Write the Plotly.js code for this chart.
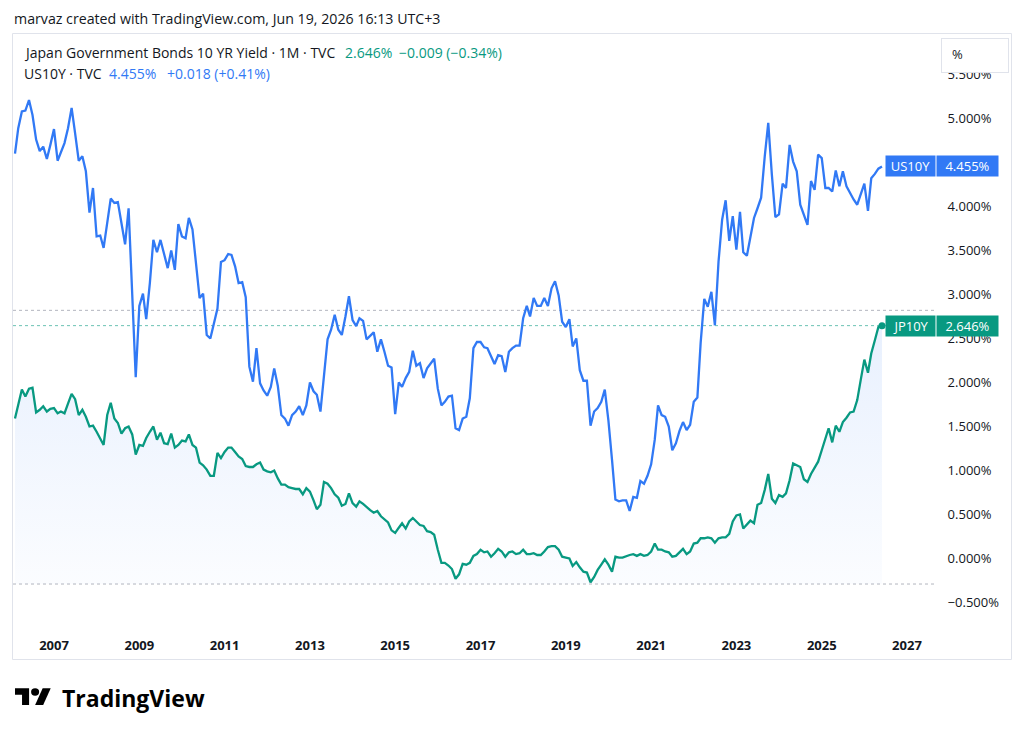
<!DOCTYPE html>
<html>
<head>
<meta charset="utf-8">
<script src="https://cdn.plot.ly/plotly-3.0.1.min.js"></script>
<style>
html,body{margin:0;padding:0;background:#ffffff;}
#chart{width:1024px;height:734px;}
</style>
</head>
<body>
<div id="chart"></div>
<script>
// ---------------- DATA (monthly closes, Feb 2006 .. Jun 2026) ----------------
const startYear = 2006, startMonthIndex = 1; // Feb 2006

const usYield = [
  4.60,4.89,5.08,5.09,5.21,5.04,4.76,4.63,4.68,4.54,4.70,            // 2006 Feb-Dec
  4.88,4.52,4.62,4.72,4.89,5.12,4.83,4.52,4.57,4.40,3.93,4.21,       // 2007
  3.66,3.67,3.53,3.81,4.09,4.04,4.05,3.81,3.57,3.98,2.98,2.06,       // 2008
  2.87,3.01,2.72,3.13,3.62,3.48,3.62,3.45,3.30,3.50,3.28,3.80,       // 2009
  3.66,3.64,3.87,3.74,3.35,2.96,3.01,2.54,2.50,2.67,2.84,3.37,       // 2010
  3.39,3.46,3.45,3.32,3.13,3.14,2.97,2.18,2.01,2.39,1.99,1.91,       // 2011
  1.85,1.95,2.16,1.96,1.63,1.59,1.51,1.63,1.67,1.73,1.63,1.74,       // 2012
  2.00,1.90,1.86,1.67,2.10,2.49,2.60,2.77,2.60,2.54,2.75,2.98,       // 2013
  2.71,2.64,2.73,2.70,2.49,2.53,2.57,2.35,2.49,2.35,2.19,2.17,       // 2014
  1.64,2.00,1.95,2.05,2.12,2.36,2.19,2.22,2.05,2.16,2.22,2.27,       // 2015
  1.93,1.74,1.78,1.84,1.85,1.48,1.46,1.59,1.61,1.82,2.39,2.46,       // 2016
  2.46,2.40,2.39,2.29,2.21,2.31,2.30,2.12,2.35,2.39,2.42,2.42,       // 2017
  2.73,2.87,2.75,2.96,2.87,2.87,2.96,2.87,3.07,3.15,2.99,2.69,       // 2018
  2.63,2.72,2.41,2.50,2.14,2.02,2.02,1.51,1.67,1.71,1.78,1.92,       // 2019
  1.57,1.12,0.67,0.65,0.66,0.66,0.54,0.70,0.69,0.88,0.85,0.94,       // 2020
  1.07,1.35,1.74,1.63,1.61,1.50,1.23,1.31,1.45,1.55,1.46,1.52,       // 2021
  1.78,1.83,2.45,2.95,2.86,3.03,2.65,3.37,3.85,4.07,3.61,3.89,       // 2022
  3.51,3.94,3.48,3.44,3.64,3.87,3.98,4.10,4.57,4.95,4.36,3.88,       // 2023
  3.91,4.26,4.21,4.70,4.51,4.40,4.02,3.90,3.79,4.29,4.19,4.59,       // 2024
  4.55,4.21,4.21,4.17,4.41,4.23,4.40,4.23,4.15,4.08,4.02,4.15,       // 2025
  4.26,3.95,4.32,4.37,4.43,4.455                                     // 2026 Jan-Jun
];

const jpYield = [
  1.59,1.76,1.92,1.84,1.93,1.94,1.66,1.69,1.73,1.67,1.70,            // 2006 Feb-Dec
  1.71,1.65,1.67,1.65,1.76,1.87,1.81,1.63,1.69,1.61,1.50,1.51,       // 2007
  1.44,1.37,1.29,1.63,1.77,1.59,1.54,1.42,1.48,1.50,1.41,1.18,       // 2008
  1.29,1.28,1.37,1.44,1.50,1.35,1.43,1.31,1.30,1.42,1.26,1.29,       // 2009
  1.34,1.33,1.41,1.29,1.26,1.09,1.06,1.01,0.94,0.94,1.20,1.14,       // 2010
  1.21,1.26,1.26,1.21,1.16,1.13,1.05,1.04,1.04,1.07,1.09,1.01,       // 2011
  0.99,0.98,1.00,0.91,0.84,0.84,0.81,0.80,0.79,0.79,0.73,0.80,       // 2012
  0.76,0.66,0.56,0.61,0.87,0.85,0.80,0.73,0.69,0.60,0.62,0.74,       // 2013
  0.63,0.59,0.65,0.62,0.58,0.55,0.52,0.54,0.48,0.45,0.41,0.32,       // 2014
  0.29,0.35,0.40,0.34,0.42,0.46,0.42,0.38,0.37,0.31,0.30,0.27,       // 2015
  0.10,-0.05,-0.05,-0.08,-0.12,-0.23,-0.18,-0.06,-0.07,-0.05,0.03,0.05, // 2016
  0.10,0.07,0.08,0.02,0.06,0.11,0.08,0.02,0.07,0.08,0.05,0.06,       // 2017
  0.10,0.05,0.05,0.06,0.04,0.04,0.08,0.13,0.14,0.14,0.10,0.02,       // 2018
  0.01,0.00,-0.085,-0.04,-0.10,-0.15,-0.16,-0.27,-0.21,-0.13,-0.07,-0.01, // 2019
  -0.07,-0.15,0.02,0.01,0.01,0.03,0.04,0.05,0.03,0.05,0.03,0.04,     // 2020
  0.08,0.17,0.10,0.10,0.08,0.07,0.02,0.03,0.07,0.11,0.05,0.08,       // 2021
  0.17,0.18,0.23,0.23,0.24,0.23,0.18,0.23,0.24,0.24,0.28,0.42,       // 2022
  0.49,0.50,0.34,0.38,0.43,0.40,0.61,0.63,0.78,0.96,0.68,0.63,       // 2023
  0.72,0.70,0.74,0.89,1.08,1.06,1.04,0.90,0.87,0.96,1.04,1.10,       // 2024
  1.23,1.37,1.48,1.32,1.51,1.44,1.55,1.60,1.66,1.67,1.80,2.03,       // 2025
  2.26,2.11,2.33,2.48,2.63,2.646                                     // 2026 Jan-Jun
];

// visible-range high / low price lines of JP10Y
const jpRangeHigh = 2.82;
const jpRangeLow = -0.29;

const xTickDates = ['2007-01-01','2009-01-01','2011-01-01','2013-01-01','2015-01-01','2017-01-01','2019-01-01','2021-01-01','2023-01-01','2025-01-01','2027-01-01'];
const xTickText  = ['2007','2009','2011','2013','2015','2017','2019','2021','2023','2025','2027'];
// 4.500% is hidden behind the US10Y tag in the reference
const yTickVals  = [-0.5,0,0.5,1,1.5,2,2.5,3,3.5,4,5,5.5];
const yTickText  = ['\u22120.500%','0.000%','0.500%','1.000%','1.500%','2.000%','2.500%','3.000%','3.500%','4.000%','5.000%','5.500%'];

const headerText = 'marvaz created with TradingView.com, Jun 19, 2026 16:13 UTC+3';
const jpLegendName = 'Japan Government Bonds 10 YR Yield \u00b7 1M \u00b7 TVC';
const jpLegendValue = '2.646%';
const jpLegendChange = '\u22120.009 (\u22120.34%)';
const usLegendName = 'US10Y \u00b7 TVC';
const usLegendValue = '4.455%';
const usLegendChange = '+0.018 (+0.41%)';
const usTag = 'US10Y', jpTag = 'JP10Y';

// ---------------- BUILD ----------------
const dates = usYield.map((_, i) => {
  const m = startMonthIndex + i;
  const y = startYear + Math.floor(m / 12);
  const mo = (m % 12) + 1;
  return y + '-' + String(mo).padStart(2, '0') + '-01';
});

const US_COLOR = '#3179F5';
const JP_COLOR = '#089981';
const TEXT = '#131722';
const FONT = '"Open Sans", "Noto Sans", sans-serif';

// pixel -> paper helpers (plot area: x 13..935, y 34..626)
const L = 13, R = 935, T = 34, B = 626;
const px = x => (x - L) / (R - L);
const py = y => (B - y) / (B - T);

const usLast = usYield[usYield.length - 1];
const jpLast = jpYield[jpYield.length - 1];
const lastDate = dates[dates.length - 1];

const traces = [
  { // fill baseline
    x: dates, y: dates.map(() => jpRangeLow), mode: 'lines',
    line: {width: 0, color: 'rgba(0,0,0,0)'}, hoverinfo: 'skip', showlegend: false
  },
  {
    x: dates, y: jpYield, mode: 'lines', name: 'JP10Y',
    line: {color: JP_COLOR, width: 2.3},
    fill: 'tonexty', fillcolor: 'rgba(49,121,245,0.06)',
    fillgradient: {type: 'vertical', colorscale: [[0, 'rgba(49,121,245,0.02)'], [1, 'rgba(49,121,245,0.11)']]},
    showlegend: false
  },
  {
    x: dates, y: usYield, mode: 'lines', name: 'US10Y',
    line: {color: US_COLOR, width: 2.3}, showlegend: false
  },
  {
    x: [lastDate], y: [jpLast], mode: 'markers',
    marker: {color: JP_COLOR, size: 7}, showlegend: false
  }
];

function ann(text, x, y, opts) {
  return Object.assign({
    text: text, xref: 'paper', yref: 'paper', x: px(x), y: py(y),
    xanchor: 'left', yanchor: 'middle', showarrow: false, borderpad: 0,
    font: {family: FONT, size: 14, color: TEXT}
  }, opts || {});
}

function tag(text, xc, w, yv, color) {
  return {text: text, xref: 'paper', yref: 'y', x: px(xc), y: yv, xanchor: 'center', yanchor: 'middle',
    showarrow: false, bgcolor: color, width: w, height: 20, borderpad: 0, align: 'center',
    font: {family: FONT, size: 13, color: '#ffffff'}};
}

const annotations = [
  ann(headerText, 12.5, 19, {font: {family: FONT, size: 14.2, color: TEXT}}),
  ann(jpLegendName, 22.5, 52.8),
  ann(jpLegendValue, 393, 52.8, {xanchor: 'right', font: {family: FONT, size: 14, color: JP_COLOR}}),
  ann(jpLegendChange, 398, 52.8, {font: {family: FONT, size: 14, color: JP_COLOR}}),
  ann(usLegendName, 22.5, 73.3),
  ann(usLegendValue, 157, 73.3, {xanchor: 'right', font: {family: FONT, size: 14, color: US_COLOR}}),
  ann(usLegendChange, 165.7, 73.3, {font: {family: FONT, size: 14, color: US_COLOR}}),
  // % box (drawn over the top price label, as in the reference)
  ann('', 940.7, 55, {width: 66, height: 33, bgcolor: '#ffffff', bordercolor: '#e0e3eb', borderwidth: 1}),
  ann('%', 957, 54, {xanchor: 'center', font: {family: FONT, size: 13, color: TEXT}}),
  // last value tags
  tag(usTag, 910.5, 49, usLast, US_COLOR),
  tag(usLegendValue, 967.3, 61, usLast, US_COLOR),
  tag(jpTag, 910.5, 49, jpLast, JP_COLOR),
  tag(jpLegendValue, 967.3, 61, jpLast, JP_COLOR),
  // logo word
  ann('TradingView', 61, 697.5, {font: {family: FONT, size: 23, color: '#000000', weight: 700}})
];

// logo geometry (TradingView mark, scaled)
const lx = u => 15 + u * 1.006, ly = v => 688.3 + (v - 4) * 0.928;
const P = (u, v) => px(lx(u)) + ',' + py(ly(v));
const logoLeft = 'M' + P(0,4) + ' L' + P(14,4) + ' L' + P(14,22) + ' L' + P(7,22) + ' L' + P(7,11) + ' L' + P(0,11) + ' Z';
const logoRight = 'M' + P(20,22) + ' L' + P(28,22) + ' L' + P(35.5,4) + ' L' + P(27.5,4) + ' Z';

const shapes = [
  // pane border
  {type: 'rect', xref: 'paper', yref: 'paper', x0: px(12.5), x1: px(1011.5), y0: py(33.5), y1: py(659.5),
   line: {color: '#e0e3eb', width: 1}, fillcolor: 'rgba(0,0,0,0)', layer: 'below'},
  // high / low / last price lines
  {type: 'line', xref: 'paper', yref: 'y', x0: 0, x1: 1, y0: jpRangeHigh, y1: jpRangeHigh,
   line: {color: '#b2b5be', width: 1, dash: 'dot'}, layer: 'below'},
  {type: 'line', xref: 'paper', yref: 'y', x0: 0, x1: 1, y0: jpRangeLow, y1: jpRangeLow,
   line: {color: '#b2b5be', width: 1, dash: 'dot'}, layer: 'below'},
  {type: 'line', xref: 'paper', yref: 'y', x0: 0, x1: 1, y0: jpLast, y1: jpLast,
   line: {color: 'rgba(8,153,129,0.6)', width: 1, dash: 'dot'}, layer: 'below'},
  // logo
  {type: 'path', xref: 'paper', yref: 'paper', path: logoLeft, fillcolor: '#000000', line: {width: 0}, layer: 'above'},
  {type: 'path', xref: 'paper', yref: 'paper', path: logoRight, fillcolor: '#000000', line: {width: 0}, layer: 'above'},
  {type: 'circle', xref: 'paper', yref: 'paper', x0: px(lx(16)), x1: px(lx(24)), y0: py(ly(4)), y1: py(ly(12)),
   fillcolor: '#000000', line: {width: 0}, layer: 'above'}
];

const layout = {
  width: 1024, height: 734,
  margin: {l: L, r: 1024 - R, t: T, b: 734 - B, pad: 0},
  paper_bgcolor: '#ffffff', plot_bgcolor: '#ffffff',
  showlegend: false, hovermode: false,
  font: {family: FONT, color: TEXT},
  xaxis: {
    type: 'date', range: ['2006-01-15', '2027-08-29'],
    tickmode: 'array', tickvals: xTickDates, ticktext: xTickText,
    showgrid: false, zeroline: false, showline: false,
    ticks: 'outside', ticklen: 7, tickcolor: 'rgba(0,0,0,0)',
    tickfont: {family: FONT, size: 13, color: TEXT, weight: 700}
  },
  yaxis: {
    side: 'right', range: [-0.767, 5.960],
    tickmode: 'array', tickvals: yTickVals, ticktext: yTickText,
    showgrid: false, zeroline: false, showline: false,
    ticks: 'outside', ticklen: 9, tickcolor: 'rgba(0,0,0,0)',
    tickfont: {family: FONT, size: 13, color: TEXT}
  },
  annotations: annotations,
  shapes: shapes
};

Plotly.newPlot('chart', traces, layout, {displayModeBar: false, staticPlot: true});
</script>
</body>
</html>
